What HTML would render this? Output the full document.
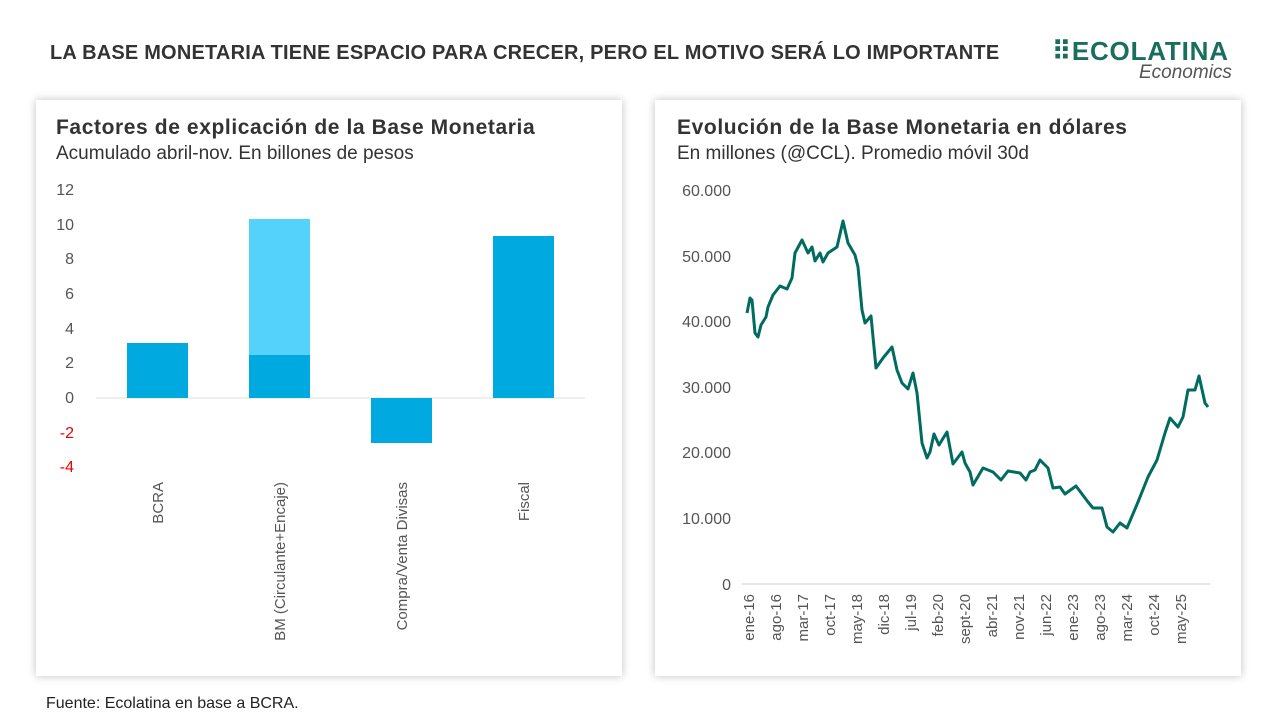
<!DOCTYPE html>
<html><head><meta charset="utf-8"><style>
body{margin:0;width:1280px;height:720px;background:#fff;font-family:"Liberation Sans",sans-serif;position:relative;overflow:hidden}
.t{position:absolute;white-space:nowrap}
.panel{position:absolute;top:100px;width:586px;height:576px;background:#fff;box-shadow:0 0 8px rgba(0,0,0,0.25)}
</style></head><body>
<div class="t" style="left:50px;top:42px;font-size:20px;font-weight:bold;color:#333;letter-spacing:0.2px">LA BASE MONETARIA TIENE ESPACIO PARA CRECER, PERO EL MOTIVO SERÁ LO IMPORTANTE</div>
<div class="t" style="left:1052px;top:36px;font-size:26px;font-weight:bold;color:#1a6e5c;letter-spacing:0.8px">⠿ECOLATINA</div>
<div class="t" style="left:1139px;top:62px;font-size:19px;font-style:italic;color:#555">Economics</div>
<div class="panel" style="left:36px"></div>
<div class="panel" style="left:655px"></div>
<div class="t" style="left:56px;top:116px;font-size:21px;font-weight:bold;color:#333;letter-spacing:0.6px">Factores de explicación de la Base Monetaria</div>
<div class="t" style="left:56px;top:143px;font-size:19px;color:#333">Acumulado abril-nov. En billones de pesos</div>
<div class="t" style="left:677px;top:116px;font-size:21px;font-weight:bold;color:#333;letter-spacing:0.6px">Evolución de la Base Monetaria en dólares</div>
<div class="t" style="left:677px;top:143px;font-size:19px;color:#333">En millones (@CCL). Promedio móvil 30d</div>
<div class="t" style="left:46px;top:695px;font-size:16px;color:#222">Fuente: Ecolatina en base a BCRA.</div>
<svg width="1280" height="720" style="position:absolute;left:0;top:0" font-family="Liberation Sans, sans-serif">
<g font-size="16" fill="#555" text-anchor="end">
<text x="74" y="195">12</text><text x="74" y="230">10</text><text x="74" y="264">8</text><text x="74" y="299">6</text><text x="74" y="334">4</text><text x="74" y="368">2</text><text x="74" y="403">0</text>
<text x="74" y="438" fill="#e00">-2</text><text x="74" y="472" fill="#e00">-4</text>
</g>
<line x1="96" y1="398" x2="585" y2="398" stroke="#ddd"/>
<rect x="127" y="343" width="61" height="55" fill="#00a9e0"/>
<rect x="249" y="219" width="61" height="136" fill="#55d2fb"/>
<rect x="249" y="355" width="61" height="43" fill="#00a9e0"/>
<rect x="371" y="398" width="61" height="45" fill="#00a9e0"/>
<rect x="493" y="236" width="61" height="162" fill="#00a9e0"/>
<g font-size="15" fill="#555" text-anchor="end">
<text transform="translate(163,482) rotate(-90)">BCRA</text>
<text transform="translate(285,482) rotate(-90)">BM (Circulante+Encaje)</text>
<text transform="translate(407,482) rotate(-90)">Compra/Venta Divisas</text>
<text transform="translate(529,482) rotate(-90)">Fiscal</text>
</g>
<g font-size="16" fill="#555" text-anchor="end">
<text x="731" y="196">60.000</text><text x="731" y="262">50.000</text><text x="731" y="327">40.000</text><text x="731" y="393">30.000</text><text x="731" y="458">20.000</text><text x="731" y="524">10.000</text><text x="731" y="590">0</text>
</g>
<line x1="742" y1="584" x2="1210" y2="584" stroke="#ccc"/>
<polyline fill="none" stroke="#006b5f" stroke-width="3" stroke-linejoin="round" points="747,313 750,298 752,300 755,333 758,337 761,325 766,317 768,307 773,295 780,286 787,289 792,278 795,253 802,240 808,253 812,247 815,261 820,253 823,262 828,253 837,247 843,221 848,243 855,255 858,267 862,310 865,323 871,316 876,368 883,358 892,347 897,370 902,383 908,389 913,373 917,393 922,443 927,458 930,452 934,434 939,445 947,432 953,464 962,452 965,463 970,472 973,485 983,468 993,472 1001,480 1008,471 1020,473 1026,480 1030,472 1035,470 1040,460 1048,468 1053,488 1060,487 1065,494 1076,486 1088,502 1093,508 1102,508 1107,527 1113,532 1120,523 1127,528 1138,502 1148,477 1157,460 1165,433 1170,418 1178,427 1183,417 1188,390 1195,390 1199,376 1205,403 1208,407"/>
<g font-size="15" fill="#555" text-anchor="end">
<text transform="translate(754,594) rotate(-90)">ene-16</text>
<text transform="translate(781,594) rotate(-90)">ago-16</text>
<text transform="translate(808,594) rotate(-90)">mar-17</text>
<text transform="translate(835,594) rotate(-90)">oct-17</text>
<text transform="translate(862,594) rotate(-90)">may-18</text>
<text transform="translate(889,594) rotate(-90)">dic-18</text>
<text transform="translate(916,594) rotate(-90)">jul-19</text>
<text transform="translate(943,594) rotate(-90)">feb-20</text>
<text transform="translate(970,594) rotate(-90)">sept-20</text>
<text transform="translate(997,594) rotate(-90)">abr-21</text>
<text transform="translate(1024,594) rotate(-90)">nov-21</text>
<text transform="translate(1051,594) rotate(-90)">jun-22</text>
<text transform="translate(1078,594) rotate(-90)">ene-23</text>
<text transform="translate(1105,594) rotate(-90)">ago-23</text>
<text transform="translate(1132,594) rotate(-90)">mar-24</text>
<text transform="translate(1159,594) rotate(-90)">oct-24</text>
<text transform="translate(1186,594) rotate(-90)">may-25</text>
</g>
</svg>
</body></html>
